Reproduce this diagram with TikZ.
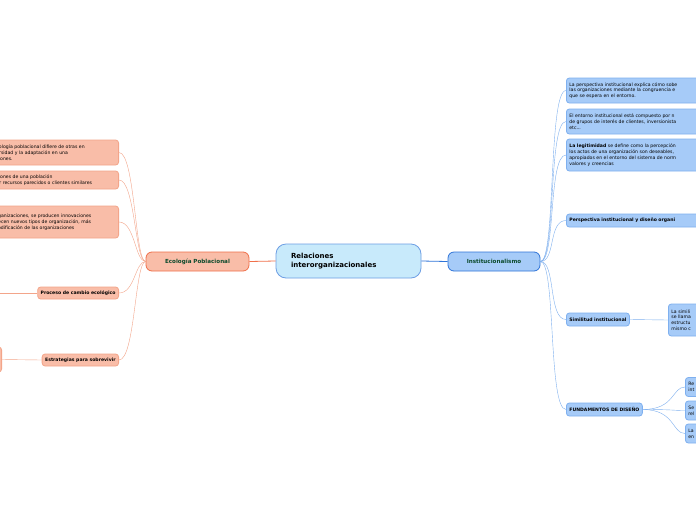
\documentclass[tikz,border=0pt]{standalone}
\usepackage{fontspec}
\setmainfont{DejaVu Sans}
\usetikzlibrary{positioning}
\definecolor{salmon}{HTML}{F9BDA8}
\definecolor{salmonline}{HTML}{F3A58A}
\definecolor{orangeline}{HTML}{F0704A}
\definecolor{skyfill}{HTML}{A6CBF8}
\definecolor{skyline}{HTML}{7FB0EF}
\definecolor{deepblue}{HTML}{2F74D8}
\definecolor{centerfill}{HTML}{C8EAFB}
\definecolor{darkgreen}{HTML}{0B4A2C}

\begin{document}
\begin{tikzpicture}[x=1pt, y=-1pt, font=\fontsize{4.6}{5.8}\selectfont]
\tikzstyle{leafl}=[rectangle, rounded corners=3pt, fill=salmon, draw=salmonline, thick, anchor=east, align=left, inner sep=3pt]
\tikzstyle{leafr}=[rectangle, rounded corners=3pt, fill=skyfill, draw=skyline, thick, anchor=west, align=left, inner sep=3pt]
\tikzstyle{linkl}=[salmonline, thin]
\tikzstyle{linkr}=[skyline, thin]

\clip (0,0) rectangle (696,520);
\fill[white] (0,0) rectangle (696,520);

% centre and main branches
\node[rectangle, rounded corners=10pt, fill=centerfill, draw=deepblue!70, thick, minimum width=145pt, minimum height=34pt, text width=115pt, align=left, font=\fontsize{7}{8.5}\selectfont\bfseries] (root) at (348.5,261) {Relaciones\\interorganizacionales};
\node[rectangle, rounded corners=6pt, fill=salmon, draw=orangeline, thick, minimum width=103pt, minimum height=19pt, text=darkgreen, font=\fontsize{5.6}{7}\selectfont\bfseries] (eco) at (197.5,261.5) {Ecología Poblacional};
\node[rectangle, rounded corners=6pt, fill=skyfill, draw=deepblue, thick, minimum width=92pt, minimum height=19pt, text=darkgreen, font=\fontsize{5.6}{7}\selectfont\bfseries] (inst) at (494,261.5) {Institucionalismo};
\draw[orangeline, thick] (root.west) -- (eco.east);
\draw[deepblue, thick] (root.east) -- (inst.west);

% left side
\node[leafl, text width=122pt, minimum height=25pt] (e1) at (119,152.5) {ecología poblacional difiere de otras en\\versidad y la adaptación en una\\aciones.};
\node[leafl, text width=122pt, minimum height=18pt] (e2) at (119,180) {aciones de una población\\por recursos parecidos o clientes similares};
\node[leafl, text width=122pt, minimum height=32pt] (e3) at (119,222) {organizaciones, se producen innovaciones\\arecen nuevos tipos de organización, más\\ modificación de las organizaciones\\[5pt]};
\node[leafl, minimum height=12pt, font=\fontsize{4.6}{5.8}\selectfont\bfseries] (e4) at (119,293) {Proceso de cambio ecológico};
\node[leafl, minimum height=12pt, font=\fontsize{4.6}{5.8}\selectfont\bfseries] (e5) at (119,360) {Estrategias para sobrevivir};
\node[leafl, minimum width=20pt, minimum height=25pt] (e5a) at (2,359.5) {};
\coordinate (e4a) at (0,293);
\foreach \n in {e1,e2,e3,e4,e5}
  \draw[linkl] (eco.west) .. controls (135,261.5) and (135,0|-\n.east) .. (\n.east);
\draw[linkl] (e4.west) -- (e4a);
\draw[linkl] (e5.west) -- (e5a.east);

% right side
\node[leafr, text width=140pt, minimum height=25pt] (i1) at (566,90.5) {La perspectiva institucional explica cómo sobe\\las organizaciones mediante la congruencia e\\que se espera en el entorno.};
\node[leafr, text width=140pt, minimum height=25pt] (i2) at (566,121.5) {El entorno institucional está compuesto por n\\de grupos de interés de clientes, inversionista\\etc...};
\node[leafr, text width=140pt, minimum height=32pt] (i3) at (566,155) {\textbf{La legitimidad} se define como la percepción\\los actos de una organización son deseables,\\apropiados en el entorno del sistema de norm\\valores y creencias};
\node[leafr, text width=140pt, minimum height=13pt, font=\fontsize{4.6}{5.8}\selectfont\bfseries] (i4) at (566,220.5) {Perspectiva institucional y diseño organi};
\node[leafr, minimum height=13pt, font=\fontsize{4.6}{5.8}\selectfont\bfseries] (i5) at (566,319.5) {Similitud institucional};
\node[leafr, text width=40pt, minimum height=32pt] (i5a) at (668,320) {La simili\\se llama\\estructu\\mismo c};
\node[leafr, minimum height=13pt, font=\fontsize{4.6}{5.8}\selectfont\bfseries] (i6) at (566,409.5) {FUNDAMENTOS DE DISEÑO};
\node[leafr, text width=30pt, minimum height=19pt] (i6a) at (685,387) {Re\\int};
\node[leafr, text width=30pt, minimum height=19pt] (i6b) at (685,410.5) {Se\\rel};
\node[leafr, text width=30pt, minimum height=19pt] (i6c) at (685,433.5) {La\\en};
\foreach \n in {i1,i2,i3,i4,i5,i6}
  \draw[linkr] (inst.east) .. controls (556,261.5) and (548,0|-\n.west) .. (\n.west);
\draw[linkr] (i5.east) -- (i5a.west);
\foreach \n in {i6a,i6b,i6c}
  \draw[linkr] (i6.east) .. controls (675,409.5) and (672,0|-\n.west) .. (\n.west);
\end{tikzpicture}
\end{document}
